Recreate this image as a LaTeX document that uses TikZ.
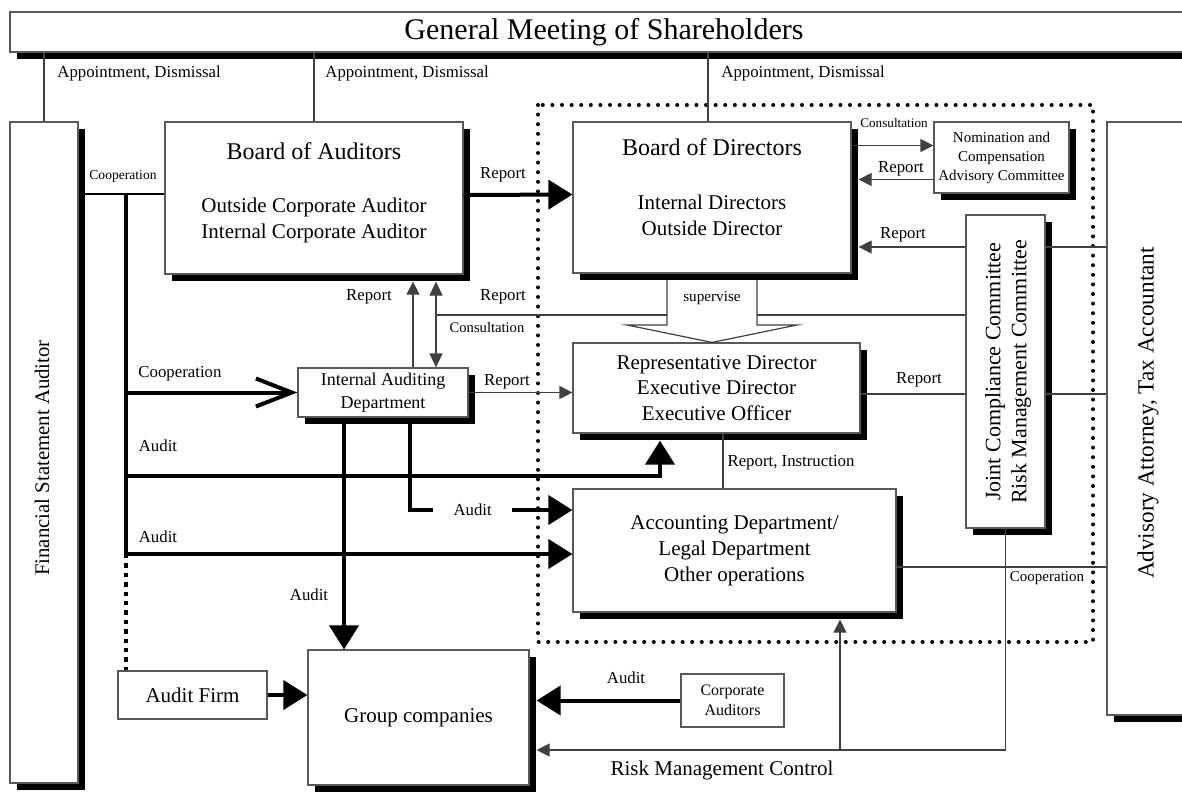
\documentclass[tikz,border=0pt]{standalone}
\usepackage{fontspec}
\setmainfont{Liberation Serif}
\usepackage{tikz}
\usetikzlibrary{arrows.meta, shadows}
\newcommand{\fsTitle}{\fontsize{15}{18}\selectfont}
\newcommand{\fsHead}{\fontsize{12}{14}\selectfont}
\newcommand{\fsBody}{\fontsize{10.5}{12.6}\selectfont}
\newcommand{\fsLabel}{\fontsize{8.4}{10}\selectfont}
\newcommand{\fsSmall}{\fontsize{7}{8.5}\selectfont}
\tikzset{
  box/.style={draw=black!65, line width=0.6pt, fill=white, align=center, inner sep=0pt},
  boxshadow/.style={drop shadow={shadow xshift=3.5pt, shadow yshift=-3.5pt, fill=black, opacity=1}},
  lbl/.style={font=\fsLabel, inner sep=1pt},
  sml/.style={font=\fsSmall, inner sep=1pt},
  conn/.style={draw=black!75, line width=0.6pt},
  arr/.style={conn, -{Triangle[length=6.5pt, width=6.5pt]}},
  bigarr/.style={line width=2pt, -{Triangle[length=12pt, width=14.5pt]}},
  coarr/.style={line width=2pt, -{Straight Barb[length=18pt, width=14pt]}},
  bus/.style={line width=2pt},
  dotbox/.style={line width=2pt, line cap=round, dash pattern=on 0pt off 4.8pt},
  sqdots/.style={line width=2pt, dash pattern=on 2.2pt off 2.5pt}
}

\begin{document}
\begin{tikzpicture}[x=0.5pt, y=-0.5pt]
\useasboundingbox (0,0) rectangle (1182,794);

\draw[dotbox] (538,105) rectangle (1093,642);

\begin{scope}[every node/.style={box, boxshadow}]
  \node[font=\fsTitle, minimum width=594pt, minimum height=20pt] (GM) at (604,32) {General Meeting of Shareholders};
  \node[minimum width=34pt, minimum height=330.5pt] (FSA) at (44,452.5) {};
  \node[font=\fsBody, minimum width=149pt, minimum height=76pt] (BoA) at (314,198)
    {{\fsHead Board of Auditors}\\[14pt]Outside Corporate Auditor\\Internal Corporate Auditor\\[-5pt]\mbox{}};
  \node[font=\fsBody, minimum width=139pt, minimum height=75.5pt] (BoD) at (712,197.5)
    {{\fsHead Board of Directors}\\[14.5pt]Internal Directors\\Outside Director\\[-2pt]\mbox{}};
  \node[font=\fontsize{7.5}{9.5}\selectfont, minimum width=67.5pt, minimum height=35.5pt] (NCAC) at (1001.5,157.5)
    {Nomination and\\Compensation\\Advisory Committee};
  \node[minimum width=39.5pt, minimum height=156.5pt] (JC) at (1005.5,371.5) {};
  \node[minimum width=41.5pt, minimum height=296.5pt] (ADV) at (1148.5,418.5) {};
  \node[font=\fontsize{9}{11.5}\selectfont, minimum width=85pt, minimum height=24.5pt] (IAD) at (383,392.5)
    {Internal Auditing\\Department};
  \node[font=\fontsize{10.5}{12.8}\selectfont, minimum width=143.5pt, minimum height=45pt] (RD) at (716.5,388)
    {Representative Director\\Executive Director\\Executive Officer};
  \node[font=\fontsize{10.5}{13}\selectfont, minimum width=161.5pt, minimum height=61.5pt] (AD) at (734.5,550.5)
    {Accounting Department/\\Legal Department\\Other operations};
  \node[font=\fsBody, minimum width=110.5pt, minimum height=67.5pt] (GC) at (418.5,717.5) {Group companies};
\end{scope}
\node[box, font=\fsBody, minimum width=74.5pt, minimum height=24pt] (AF) at (192.5,695) {Audit Firm};
\node[box, font=\fontsize{8}{10}\selectfont, minimum width=51.5pt, minimum height=26.5pt] (CA) at (732.5,700.5) {Corporate\\Auditors};

\node[rotate=90, font=\fontsize{10.4}{12}\selectfont] (FSAtx) at (42,458) {Financial Statement Auditor};
\node[rotate=90, align=center, font=\fontsize{11}{13}\selectfont] (JCtx) at (1008,372) {Joint Compliance Committee\\Risk Management Committee};
\node[rotate=90, font=\fontsize{11.6}{14}\selectfont] (ADVtx) at (1148,413) {Advisory Attorney, Tax Accountant};

\coordinate (jT) at (126,194);
\coordinate (lvA) at (0,247);
\coordinate (lvB) at (436,315);
\coordinate (lvC) at (0,394);
\coordinate (lvD) at (660,476);
\coordinate (lvE) at (410,510);
\coordinate (lvF) at (0,554);
\coordinate (lvG) at (0,567);
\coordinate (rk) at (840,750);
\coordinate (gcA) at (344,0);
\coordinate (rpA) at (413,0);
\coordinate (riA) at (723,0);
\coordinate (ncA) at ([yshift=6pt]NCAC.west);
\coordinate (ncB) at ([yshift=-11pt]NCAC.west);
\coordinate (rdS) at ([yshift=-3.5pt]RD.south);

% appointment
\draw[conn] (FSA.north) -- (FSA.north |- GM.south);
\draw[conn] (BoA.north) -- (BoA.north |- GM.south);
\draw[conn] ([xshift=-2pt]BoD.north) -- ([xshift=-2pt]BoD.north |- GM.south);
\node[lbl, anchor=west] (lApA) at (55,73) {Appointment, Dismissal};
\node[lbl, anchor=west] (lApB) at (323,73) {Appointment, Dismissal};
\node[lbl, anchor=west] (lApC) at (719,73) {Appointment, Dismissal};

% auditors side
\draw[line width=1.3pt] (FSA.east |- jT) -- (BoA.west |- jT);
\node[sml, font=\fontsize{6.8}{8}\selectfont] (lCoA) at (123,176) {Cooperation};
\draw[bus] (jT) -- (jT |- lvF);
\draw[sqdots] (jT |- lvF) -- (jT |- AF.north);
\draw[bigarr] ([yshift=1.5pt]BoA.east) -- ([yshift=1.5pt]BoD.west);
\node[lbl] (lRpA) at (503,175) {Report};

% committees
\draw[arr] (BoD.east |- ncA) -- (ncA);
\node[sml, font=\fontsize{6.6}{8}\selectfont] (lCsA) at (894,123) {Consultation};
\draw[arr, shorten >=3.5pt] (ncB) -- (BoD.east |- ncB);
\node[lbl] (lRpB) at (901,169) {Report};
\draw[arr, shorten >=3.5pt] (JC.west |- lvA) -- (BoD.east |- lvA);
\draw[conn] (JC.east |- lvA) -- (ADV.west |- lvA);
\node[lbl] (lRpC) at (903,235) {Report};

% internal auditing
\draw[arr, shorten >=3.5pt] (IAD.north -| rpA) -- (BoA.south -| rpA);
\node[lbl] (lRpD) at (369,297) {Report};
\draw[conn, {Triangle[length=7pt, width=6.5pt]}-{Triangle[length=7pt, width=6.5pt]}, shorten <=3.5pt] (BoA.south -| lvB) -- (IAD.north -| lvB);
\draw[conn] (lvB) -- (JC.west |- lvB);
\node[lbl] (lRpE) at (503,297) {Report};
\node[sml, font=\fontsize{7.3}{9}\selectfont] (lCsB) at (487,327) {Consultation};

% supervise
\draw[conn, fill=white] (667,280) -- (667,325) -- (627,325) -- (BoD.south |- RD.north) -- (797,325) -- (757,325) -- (757,280);
\node[sml, font=\fontsize{7.6}{9}\selectfont] (lSup) at (712,298) {supervise};

\draw[coarr] (jT |- IAD.west) -- (IAD.west);
\node[lbl] (lCoB) at (180,374) {Cooperation};
\draw[arr] (IAD.east) -- (RD.west |- IAD.east);
\node[lbl] (lRpF) at (507,382) {Report};
\draw[conn] (RD.east |- lvC) -- (JC.west |- lvC);
\draw[conn] (JC.east |- lvC) -- (ADV.west |- lvC);
\node[lbl] (lRpG) at (919,380) {Report};

% audit lines
\draw[bigarr] (jT |- lvD) -- (lvD) -- (lvD |- rdS);
\node[lbl] (lAuA) at (158,446) {Audit};
\draw[conn] (RD.south -| riA) -- (AD.north -| riA);
\node[lbl] (lRI) at (791,463) {Report, Instruction};
\draw[bigarr] (IAD.south -| lvE) -- (lvE) -- node[lbl, fill=white, inner xsep=10.2pt, pos=0.386] (lAuB) {Audit} (AD.west |- lvE);
\draw[bigarr] (jT |- lvF) -- (AD.west |- lvF);
\node[lbl] (lAuC) at (158,537) {Audit};
\draw[conn] (AD.east |- lvG) -- (ADV.west |- lvG);
\node[sml, font=\fontsize{7.5}{9}\selectfont] (lCoC) at (1047,578) {Cooperation};
\draw[bigarr] (IAD.south -| gcA) -- (GC.north -| gcA);
\node[lbl] (lAuD) at (309,595) {Audit};

% group companies
\draw[bigarr] (AF.east) -- (GC.west |- AF.east);
\draw[bigarr, shorten >=3.5pt] (CA.west) -- (GC.east |- CA.west);
\node[lbl] (lAuE) at (626,678) {Audit};
\draw[arr, shorten >=3.5pt] (JC.south) -- (JC.south |- rk) -- (GC.east |- rk);
\draw[arr, shorten >=3.5pt] (rk) -- (AD.south -| rk);
\node[font=\fsBody] (lRMC) at (722,770) {Risk Management Control};
\end{tikzpicture}
\end{document}
